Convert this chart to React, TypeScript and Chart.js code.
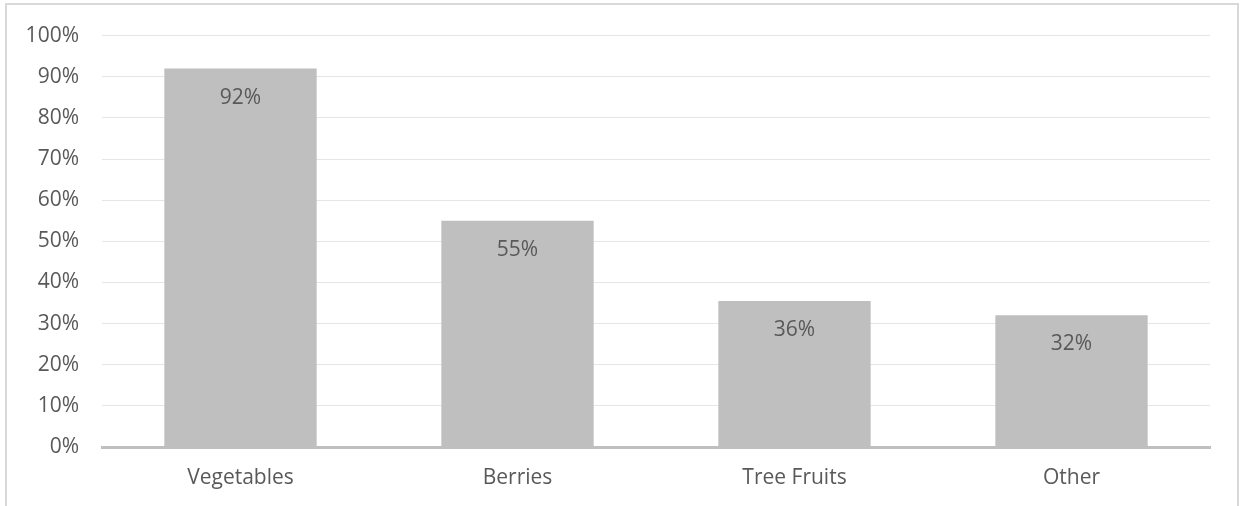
import React, { useEffect, useRef } from "react";
import { Chart, registerables } from "chart.js";

Chart.register(...registerables);

const categories = ["Vegetables", "Berries", "Tree Fruits", "Other"];
const values = [92, 55, 35.5, 32];
const valueLabels = ["92%", "55%", "36%", "32%"];
const yTicks = [0, 10, 20, 30, 40, 50, 60, 70, 80, 90, 100];

const FONT = "'Open Sans', 'DejaVu Sans', sans-serif";
const TEXT = "#595959";
const FS = 21;

const labelPlugin = {
  id: "insideEndLabels",
  afterDatasetsDraw(chart: any) {
    const ctx = chart.ctx;
    const meta = chart.getDatasetMeta(0);
    ctx.save();
    ctx.font = `${FS}px ${FONT}`;
    ctx.fillStyle = TEXT;
    ctx.textAlign = "center";
    ctx.textBaseline = "alphabetic";
    meta.data.forEach((bar: any, i: number) => {
      ctx.fillText(valueLabels[i], bar.x, bar.y + 35);
    });
    ctx.restore();
  },
};

export default function App() {
  const ref = useRef<HTMLCanvasElement>(null);
  useEffect(() => {
    document.body.style.margin = "0";
    const chart = new Chart(ref.current as HTMLCanvasElement, {
      type: "bar",
      data: {
        labels: categories,
        datasets: [
          {
            data: values,
            backgroundColor: "#BFBFBF",
            borderWidth: 0,
            categoryPercentage: 0.55,
            barPercentage: 1,
          },
        ],
      },
      options: {
        animation: false,
        responsive: false,
        layout: { padding: { top: 34, right: 37, bottom: 0, left: 0 } },
        plugins: { legend: { display: false }, tooltip: { enabled: false } },
        scales: {
          x: {
            grid: { display: false, drawTicks: false },
            border: { display: true, color: "#BFBFBF", width: 3 },
            ticks: { color: TEXT, font: { family: FONT, size: FS }, padding: 18, maxRotation: 0 },
            afterFit(scale: any) {
              scale.height = 59;
            },
          },
          y: {
            min: 0,
            max: 100,
            afterBuildTicks(scale: any) {
              scale.ticks = yTicks.map((v) => ({ value: v }));
            },
            grid: { color: "#E6E6E6", lineWidth: 1, drawTicks: false },
            border: { display: false },
            ticks: {
              color: TEXT,
              font: { family: FONT, size: FS },
              padding: 23,
              callback: (v: any) => v + "%",
            },
            afterFit(scale: any) {
              scale.width = 102;
            },
          },
        },
      },
      plugins: [labelPlugin],
    });
    return () => chart.destroy();
  }, []);
  return (
    <div style={{ position: "relative", width: 1247, height: 506, overflow: "hidden", background: "#fff" }}>
      <canvas ref={ref} width={1247} height={506} style={{ display: "block" }} />
      <div
        style={{
          position: "absolute",
          left: 5,
          top: 3,
          width: 1234,
          height: 600,
          border: "2px solid #D9D9D9",
          boxSizing: "border-box",
          pointerEvents: "none",
        }}
      />
    </div>
  );
}
